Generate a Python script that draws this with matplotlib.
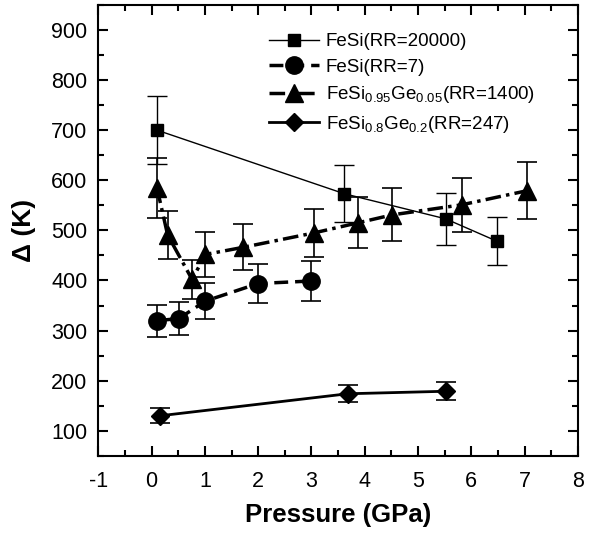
import matplotlib
matplotlib.use('Agg')
import matplotlib.pyplot as plt
from matplotlib.ticker import MultipleLocator

plt.rcParams['font.family'] = ['Liberation Sans', 'DejaVu Sans']
plt.rcParams['mathtext.fontset'] = 'custom'
plt.rcParams['mathtext.rm'] = 'Liberation Sans'
plt.rcParams['mathtext.it'] = 'Liberation Sans'
plt.rcParams['axes.unicode_minus'] = False

# FeSi (RR=20000)
p_sq = [0.1, 3.62, 5.52, 6.49]
d_sq = [700, 573, 523, 478]
e_sq = [68, 57, 52, 48]

# FeSi (RR=7)
p_ci = [0.11, 0.51, 1.01, 2.0, 3.0]
d_ci = [320, 324, 359, 394, 399]
e_ci = [32, 33, 36, 39, 40]

# FeSi0.95Ge0.05 (RR=1400)
p_tr = [0.1, 0.3, 0.76, 1.01, 1.71, 3.05, 3.87, 4.52, 5.82, 7.04]
d_tr = [585, 491, 402, 452, 466, 495, 515, 531, 551, 579]
e_tr = [60, 48, 38, 45, 46, 48, 51, 53, 54, 57]

# FeSi0.8Ge0.2 (RR=247)
p_di = [0.15, 3.68, 5.52]
d_di = [130, 174, 179]
e_di = [15, 17, 18]

labels = ['FeSi(RR=20000)', 'FeSi(RR=7)',
          r'FeSi$_{0.95}$Ge$_{0.05}$(RR=1400)',
          r'FeSi$_{0.8}$Ge$_{0.2}$(RR=247)']

fig = plt.figure(figsize=(5.89, 5.37), dpi=100)
ax = fig.add_axes([0.167, 0.151, 0.814, 0.840])

c1 = ax.errorbar(p_sq, d_sq, yerr=e_sq, color='black', marker='s', ms=8, lw=1,
                 elinewidth=1, capsize=7, capthick=1)
c2 = ax.errorbar(p_ci, d_ci, yerr=e_ci, color='black', marker='o', ms=12.5, lw=2.5,
                 dashes=(4, 2), elinewidth=1.2, capsize=7, capthick=1.2)
c3 = ax.errorbar(p_tr, d_tr, yerr=e_tr, color='black', marker='^', ms=12.5, lw=2.5,
                 dashes=(4.5, 1.5, 1, 1.5), elinewidth=1.2, capsize=7, capthick=1.2)
c4 = ax.errorbar(p_di, d_di, yerr=e_di, color='black', marker='D', ms=9, lw=2,
                 elinewidth=1.2, capsize=7, capthick=1.2)

ax.set_xlim(-1, 8)
ax.set_ylim(50, 950)
ax.xaxis.set_major_locator(MultipleLocator(1))
ax.xaxis.set_minor_locator(MultipleLocator(0.5))
ax.yaxis.set_major_locator(MultipleLocator(100))
ax.yaxis.set_minor_locator(MultipleLocator(50))
ax.tick_params(which='both', direction='in', top=True, right=True,
               labelsize=15.5, width=1.5)
ax.tick_params(which='major', length=7)
ax.tick_params(which='minor', length=4)
ax.tick_params(axis='x', pad=11)
ax.tick_params(axis='y', pad=8)
for s in ax.spines.values():
    s.set_linewidth(1.5)

ax.set_xlabel('Pressure (GPa)', fontsize=18.5, fontweight='bold', labelpad=8)
ax.set_ylabel('Δ (K)', fontsize=19, fontweight='bold', labelpad=11)

ax.legend(handles=[c1[0], c2[0], c3[0], c4[0]], labels=labels,
          loc='upper left', bbox_to_anchor=(0.32, 0.975), frameon=False,
          fontsize=13.5, handlelength=2.7, handletextpad=0.35,
          labelspacing=0.45)

fig.savefig('out.png', dpi=100)
